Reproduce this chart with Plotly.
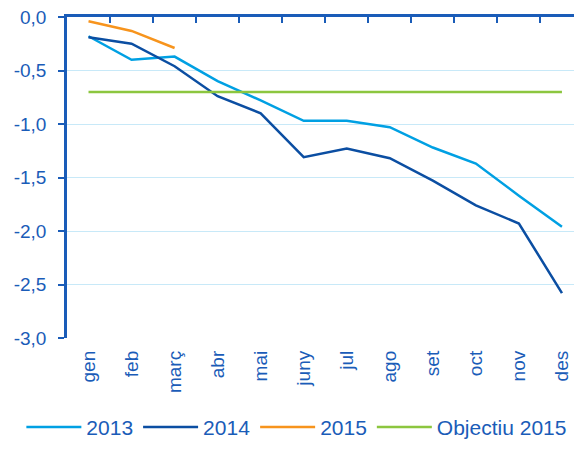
import plotly.graph_objects as go

MONTHS = ["gen", "feb", "març", "abr", "mai", "juny", "jul", "ago", "set", "oct", "nov", "des"]
Y2013 = [-0.18, -0.40, -0.37, -0.60, -0.78, -0.97, -0.97, -1.03, -1.22, -1.37, -1.67, -1.96]
Y2014 = [-0.19, -0.25, -0.46, -0.74, -0.90, -1.31, -1.23, -1.32, -1.53, -1.76, -1.93, -2.58]
Y2015 = [-0.04, -0.13, -0.29]
OBJECTIU = [-0.70] * 12
Y_TICKS = [0, -0.5, -1, -1.5, -2, -2.5, -3]
Y_LABELS = ["0,0", "-0,5", "-1,0", "-1,5", "-2,0", "-2,5", "-3,0"]

COLORS = {
    "y2013": "#00a0e3",
    "y2014": "#0b4ea2",
    "y2015": "#f7941d",
    "obj": "#8cc63f",
    "text": "#1a5cb8",
    "grid": "#c8e9f8",
}
FONT = "Liberation Sans, Arial, sans-serif"

fig = go.Figure()
fig.add_trace(go.Scatter(x=MONTHS, y=Y2013, name="2013", mode="lines",
                         line=dict(color=COLORS["y2013"], width=2.5)))
fig.add_trace(go.Scatter(x=MONTHS, y=Y2014, name="2014", mode="lines",
                         line=dict(color=COLORS["y2014"], width=2.5)))
fig.add_trace(go.Scatter(x=MONTHS[:len(Y2015)], y=Y2015, name="2015", mode="lines",
                         line=dict(color=COLORS["y2015"], width=2.5)))
fig.add_trace(go.Scatter(x=MONTHS, y=OBJECTIU, name="Objectiu 2015", mode="lines",
                         line=dict(color=COLORS["obj"], width=2.5), xaxis="x2"))

xr = [-0.5, 11.28]
fig.update_layout(
    width=574, height=450,
    paper_bgcolor="white", plot_bgcolor="white",
    font=dict(family=FONT, color=COLORS["text"], size=19),
    margin=dict(l=67, r=0, t=17, b=112, autoexpand=False),
    showlegend=True,
    legend=dict(orientation="h", x=-0.09, xanchor="left", y=-0.278, yanchor="middle",
                font=dict(size=21, color=COLORS["text"]), itemwidth=55,
                traceorder="normal"),
    xaxis=dict(type="category", categoryarray=MONTHS, range=xr, side="top",
               showline=True, linecolor=COLORS["text"], linewidth=2.5,
               ticks="inside", tickson="boundaries", ticklen=6, tickwidth=2,
               tickcolor=COLORS["text"], showticklabels=False, showgrid=False,
               automargin=False),
    xaxis2=dict(type="category", categoryarray=MONTHS, range=xr, overlaying="x",
                side="bottom", anchor="y", showline=False, ticks="",
                tickangle=-90, showgrid=False, tickfont=dict(size=19),
                ticklabelstandoff=8, automargin=False),
    yaxis=dict(range=[-3, 0], tickvals=Y_TICKS, ticktext=Y_LABELS,
               showline=True, linecolor=COLORS["text"], linewidth=2.5,
               ticks="outside", ticklen=6, tickwidth=2, tickcolor=COLORS["text"],
               ticklabelstandoff=8,
               gridcolor=COLORS["grid"], gridwidth=1, zeroline=False,
               automargin=False),
)

fig.write_html("out.html", config={"displayModeBar": False},
               post_script="document.body.style.margin='0';")
